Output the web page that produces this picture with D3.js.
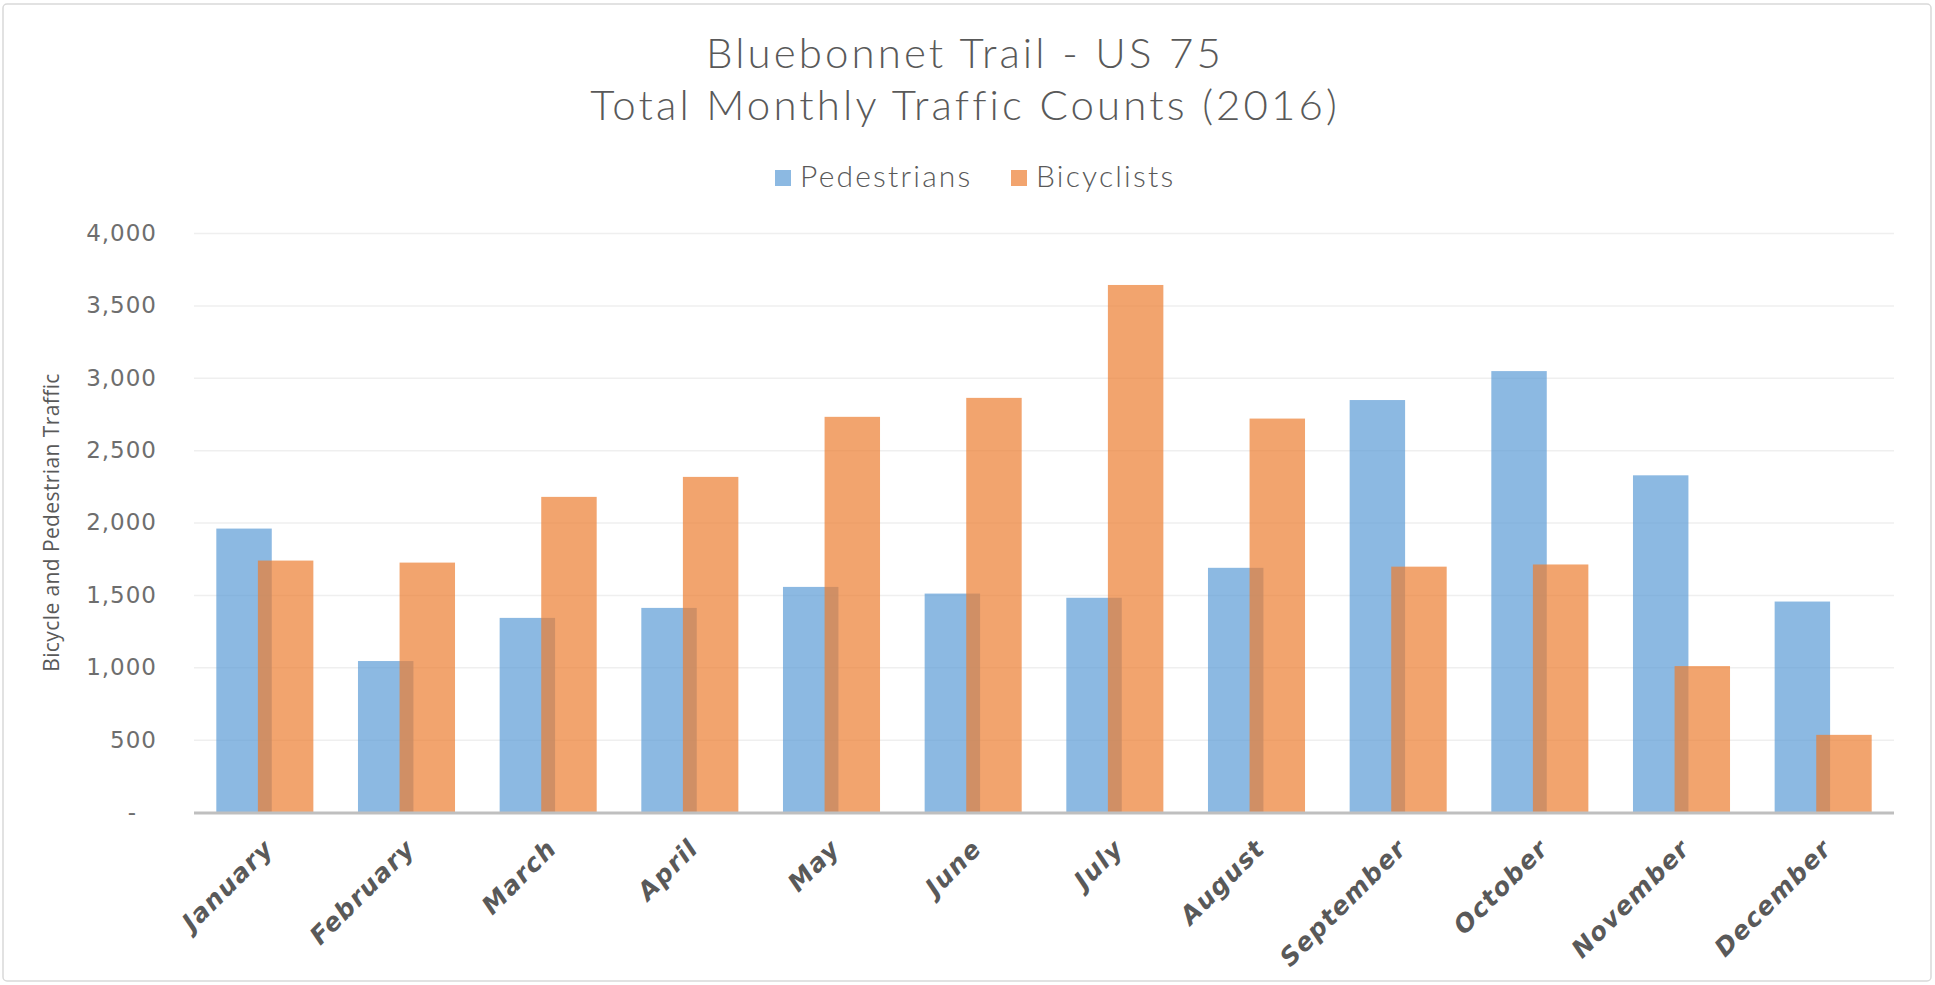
<!DOCTYPE html>
<html>
<head>
<meta charset="utf-8">
<script src="https://cdn.jsdelivr.net/npm/d3@7"></script>
<style>
  body { margin: 0; background: #fff; }
  svg { display: block; }
</style>
</head>
<body>
<div id="chart"></div>
<script>
// values
var months = ["January", "February", "March", "April", "May", "June",
  "July", "August", "September", "October", "November", "December"];
var pedestrians = [1958, 1043, 1341, 1410, 1555, 1509, 1480, 1687, 2846, 3046, 2326, 1454];
var bicyclists = [1737, 1723, 2177, 2315, 2730, 2861, 3641, 2718, 1695, 1710, 1008, 533];
var yTicks = [0, 500, 1000, 1500, 2000, 2500, 3000, 3500, 4000];
var titleLines = ["Bluebonnet Trail - US 75", "Total Monthly Traffic Counts (2016)"];
var seriesNames = ["Pedestrians", "Bicyclists"];
var seriesColors = ["#5B9BD5", "#ED7D31"];

var W = 1935, H = 985;
var plot = { left: 194, right: 1894, top: 233, bottom: 812 };

var svg = d3.select("#chart").append("svg")
  .attr("width", W)
  .attr("height", H);

// chart border
svg.append("rect")
  .attr("x", 3).attr("y", 4)
  .attr("width", W - 7).attr("height", H - 8)
  .attr("rx", 4)
  .attr("fill", "#fff")
  .attr("stroke", "#d9d9d9")
  .attr("stroke-width", 1.5);

// title
svg.selectAll("text.title")
  .data(titleLines)
  .enter().append("text")
  .attr("class", "title")
  .attr("x", 965)
  .attr("y", function (d, i) { return 68 + i * 52; })
  .attr("text-anchor", "middle")
  .attr("font-family", "Lato, 'Open Sans', sans-serif")
  .attr("font-weight", 300)
  .attr("font-size", 42)
  .attr("letter-spacing", 3.1)
  .attr("fill", "#595959")
  .text(function (d) { return d; });

var x = d3.scaleBand()
  .domain(months)
  .range([plot.left, plot.right])
  .paddingInner(0.315)
  .paddingOuter(0.1575);

var y = d3.scaleLinear()
  .domain([0, 4000])
  .range([plot.bottom, plot.top]);

// bars overlap by 25% of their width
var barW = x.bandwidth() / 1.75;

// gridlines
svg.append("g")
  .attr("transform", "translate(" + plot.left + ",0)")
  .call(d3.axisLeft(y).tickValues(yTicks.slice(1)).tickSize(-(plot.right - plot.left)).tickFormat(""))
  .call(function (g) { g.select(".domain").remove(); })
  .selectAll("line")
  .attr("stroke", "#efefef")
  .attr("stroke-width", 1.5);

// y tick labels
var gy = svg.append("g")
  .attr("transform", "translate(157,0)")
  .call(d3.axisLeft(y).tickValues(yTicks).tickSize(0).tickPadding(0)
    .tickFormat(function (d) { return d === 0 ? "-" : d3.format(",")(d); }));
gy.select(".domain").remove();
gy.selectAll("text")
  .attr("font-family", "'DejaVu Sans', sans-serif")
  .attr("font-size", 23)
  .attr("letter-spacing", 1)
  .attr("fill", "#6e6e6e")
  .attr("dx", function (d) { return d === 0 ? -20 : 0; });

// y axis title
svg.append("text")
  .attr("transform", "translate(59," + (plot.top + plot.bottom) / 2 + ") rotate(-90)")
  .attr("text-anchor", "middle")
  .attr("font-family", "'Open Sans', sans-serif")
  .attr("font-size", 21)
  .attr("letter-spacing", 0.4)
  .attr("fill", "#595959")
  .text("Bicycle and Pedestrian Traffic");

// bars
var series = [pedestrians, bicyclists];
series.forEach(function (vals, s) {
  svg.append("g")
    .selectAll("rect")
    .data(vals)
    .enter().append("rect")
    .attr("x", function (d, i) { return x(months[i]) + s * 0.75 * barW; })
    .attr("y", function (d) { return y(d); })
    .attr("width", barW)
    .attr("height", function (d) { return y(0) - y(d); })
    .attr("fill", seriesColors[s])
    .attr("fill-opacity", 0.7);
});

// x axis line
svg.append("line")
  .attr("x1", plot.left).attr("x2", plot.right)
  .attr("y1", y(0) + 1).attr("y2", y(0) + 1)
  .attr("stroke", "#bfbfbf")
  .attr("stroke-width", 3);

// month labels
var gx = svg.append("g")
  .attr("transform", "translate(0," + plot.bottom + ")")
  .call(d3.axisBottom(x).tickSize(0).tickPadding(0));
gx.select(".domain").remove();
gx.selectAll("text")
  .attr("font-family", "'DejaVu Sans', sans-serif")
  .attr("font-weight", "bold")
  .attr("font-style", "italic")
  .attr("font-size", 25)
  .attr("letter-spacing", 1.3)
  .attr("fill", "#595959")
  .attr("text-anchor", "end")
  .attr("dy", null)
  .attr("transform", "translate(10,38) rotate(-45)");

// legend
var legend = svg.append("g");
var legendX = [775, 1011];
seriesNames.forEach(function (name, s) {
  legend.append("rect")
    .attr("x", legendX[s]).attr("y", 170)
    .attr("width", 16).attr("height", 16)
    .attr("fill", seriesColors[s])
    .attr("fill-opacity", 0.7);
  legend.append("text")
    .attr("x", legendX[s] + 25).attr("y", 187)
    .attr("font-family", "Lato, 'Open Sans', sans-serif")
    .attr("font-weight", 300)
    .attr("font-size", 30)
    .attr("letter-spacing", 2.2)
    .attr("fill", "#595959")
    .text(name);
});
</script>
</body>
</html>
